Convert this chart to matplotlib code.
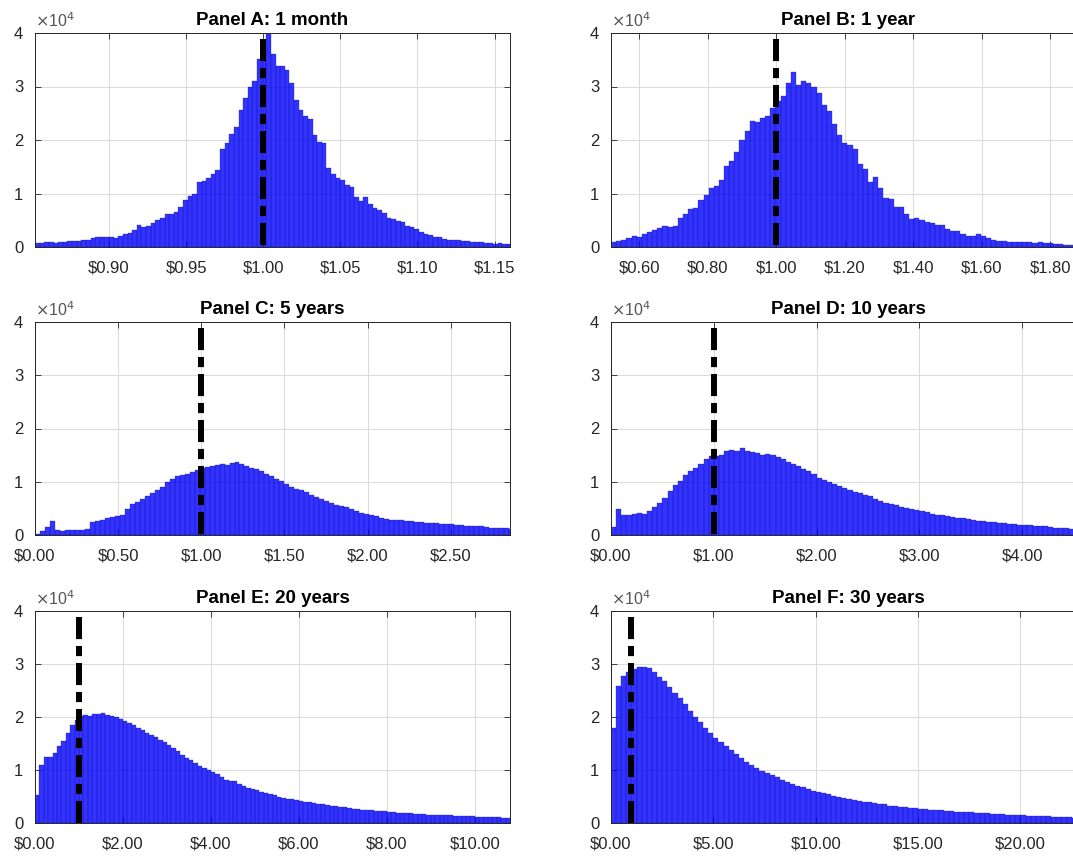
import numpy as np
import matplotlib
matplotlib.use('Agg')
import matplotlib.pyplot as plt

plt.rcParams['font.family'] = ['Liberation Sans', 'DejaVu Sans']

# simulated terminal value of $1, histogram counts per bin (units of 10^4)
titles = ['Panel A: 1 month', 'Panel B: 1 year', 'Panel C: 5 years',
          'Panel D: 10 years', 'Panel E: 20 years', 'Panel F: 30 years']

bin_start = [0.852, 0.5177, 0.0, 0.0, 0.0, 0.0]
bin_width = [0.003, 0.015, 0.03, 0.05, 0.1, 0.25]

x_limits = [(0.852, 1.160), (0.5177, 1.904), (0.0, 2.857),
            (0.0, 4.62), (0.0, 10.8), (0.0, 23.2)]

x_ticks = [[0.90, 0.95, 1.00, 1.05, 1.10, 1.15],
           [0.60, 0.80, 1.00, 1.20, 1.40, 1.60, 1.80],
           [0.0, 0.5, 1.0, 1.5, 2.0, 2.5],
           [0.0, 1.0, 2.0, 3.0, 4.0],
           [0.0, 2.0, 4.0, 6.0, 8.0, 10.0],
           [0.0, 5.0, 10.0, 15.0, 20.0]]

y_ticks = [0, 1, 2, 3, 4]
initial_value = 1.0

counts_a = [0.07, 0.07, 0.09, 0.10, 0.08, 0.09, 0.10, 0.12, 0.11, 0.12,
            0.14, 0.14, 0.17, 0.18, 0.19, 0.18, 0.18, 0.17, 0.21, 0.25,
            0.27, 0.31, 0.42, 0.37, 0.40, 0.45, 0.50, 0.54, 0.61, 0.62,
            0.66, 0.75, 0.87, 0.95, 1.00, 1.22, 1.24, 1.29, 1.36, 1.44,
            1.84, 1.94, 2.12, 2.25, 2.56, 2.78, 3.00, 3.11, 3.51, 3.70,
            4.05, 3.60, 3.38, 3.38, 3.31, 3.06, 2.75, 2.56, 2.45, 2.40,
            2.09, 1.97, 1.95, 1.47, 1.37, 1.29, 1.25, 1.16, 1.12, 0.94,
            0.86, 0.94, 0.81, 0.73, 0.69, 0.63, 0.55, 0.53, 0.48, 0.47,
            0.40, 0.37, 0.34, 0.28, 0.25, 0.22, 0.19, 0.18, 0.15, 0.14,
            0.13, 0.13, 0.12, 0.11, 0.10, 0.09, 0.09, 0.08, 0.07, 0.06,
            0.07, 0.06, 0.05]

counts_b = [0.10, 0.11, 0.13, 0.17, 0.20, 0.19, 0.24, 0.28, 0.32, 0.35,
            0.40, 0.37, 0.40, 0.55, 0.62, 0.71, 0.72, 0.88, 0.98, 1.10,
            1.14, 1.25, 1.52, 1.60, 1.78, 2.00, 2.17, 2.35, 2.33, 2.42,
            2.45, 2.60, 2.72, 2.83, 3.06, 3.28, 3.03, 3.10, 3.07, 3.00,
            2.88, 2.65, 2.55, 2.30, 2.10, 1.95, 1.90, 1.83, 1.55, 1.45,
            1.22, 1.30, 1.10, 0.92, 0.90, 0.75, 0.74, 0.62, 0.52, 0.55,
            0.50, 0.46, 0.44, 0.42, 0.41, 0.34, 0.30, 0.30, 0.25, 0.21,
            0.21, 0.24, 0.20, 0.16, 0.14, 0.12, 0.12, 0.10, 0.10, 0.09,
            0.10, 0.09, 0.08, 0.09, 0.07, 0.07, 0.06, 0.05, 0.04, 0.04,
            0.03, 0.03, 0.03]

counts_c = [0.02, 0.07, 0.15, 0.27, 0.10, 0.08, 0.10, 0.10, 0.10, 0.10,
            0.12, 0.24, 0.26, 0.29, 0.31, 0.33, 0.36, 0.38, 0.48, 0.58,
            0.62, 0.67, 0.73, 0.79, 0.85, 0.90, 1.00, 1.05, 1.10, 1.12,
            1.15, 1.18, 1.22, 1.25, 1.27, 1.29, 1.31, 1.33, 1.32, 1.35,
            1.38, 1.33, 1.30, 1.26, 1.24, 1.20, 1.15, 1.10, 1.05, 1.01,
            0.96, 0.91, 0.87, 0.85, 0.80, 0.76, 0.72, 0.68, 0.64, 0.61,
            0.57, 0.54, 0.52, 0.49, 0.45, 0.42, 0.40, 0.38, 0.35, 0.32,
            0.30, 0.29, 0.28, 0.28, 0.27, 0.26, 0.25, 0.24, 0.23, 0.22,
            0.22, 0.21, 0.20, 0.20, 0.19, 0.18, 0.17, 0.17, 0.16, 0.16,
            0.15, 0.14, 0.14, 0.13, 0.13, 0.12]

counts_d = [0.15, 0.48, 0.38, 0.38, 0.40, 0.42, 0.40, 0.45, 0.52, 0.60,
            0.70, 0.82, 0.93, 1.02, 1.12, 1.20, 1.25, 1.33, 1.42, 1.48,
            1.48, 1.50, 1.57, 1.60, 1.58, 1.63, 1.58, 1.56, 1.54, 1.51,
            1.52, 1.50, 1.47, 1.43, 1.38, 1.33, 1.29, 1.24, 1.20, 1.14,
            1.07, 1.04, 1.00, 0.96, 0.92, 0.88, 0.85, 0.81, 0.78, 0.76,
            0.73, 0.68, 0.64, 0.60, 0.58, 0.56, 0.53, 0.50, 0.49, 0.47,
            0.45, 0.43, 0.40, 0.38, 0.37, 0.35, 0.34, 0.32, 0.31, 0.30,
            0.29, 0.27, 0.26, 0.25, 0.24, 0.23, 0.22, 0.21, 0.20, 0.19,
            0.18, 0.18, 0.17, 0.16, 0.16, 0.15, 0.14, 0.14, 0.13, 0.12,
            0.12, 0.11, 0.11]

counts_e = [0.52, 1.10, 1.25, 1.24, 1.33, 1.45, 1.55, 1.70, 1.85, 1.95,
            2.02, 2.03, 2.02, 2.05, 2.06, 2.08, 2.03, 2.01, 2.00, 1.96,
            1.92, 1.88, 1.84, 1.79, 1.75, 1.70, 1.66, 1.62, 1.57, 1.52,
            1.47, 1.41, 1.35, 1.29, 1.23, 1.18, 1.13, 1.08, 1.04, 1.00,
            0.96, 0.92, 0.87, 0.82, 0.80, 0.79, 0.74, 0.70, 0.66, 0.64,
            0.62, 0.59, 0.56, 0.54, 0.52, 0.50, 0.48, 0.46, 0.45, 0.43,
            0.42, 0.40, 0.39, 0.38, 0.36, 0.35, 0.34, 0.33, 0.32, 0.31,
            0.30, 0.28, 0.27, 0.26, 0.25, 0.24, 0.24, 0.23, 0.22, 0.22,
            0.21, 0.20, 0.19, 0.19, 0.18, 0.18, 0.17, 0.17, 0.17, 0.16,
            0.16, 0.15, 0.15, 0.15, 0.15, 0.14, 0.14, 0.13, 0.13, 0.13,
            0.12, 0.12, 0.12, 0.11, 0.11, 0.11, 0.10, 0.10]

counts_f = [1.80, 2.58, 2.78, 2.85, 2.90, 2.95, 2.95, 2.92, 2.85, 2.75,
            2.67, 2.57, 2.46, 2.36, 2.24, 2.12, 2.00, 1.90, 1.80, 1.70,
            1.60, 1.52, 1.45, 1.37, 1.30, 1.22, 1.16, 1.10, 1.04, 0.99,
            0.94, 0.90, 0.86, 0.82, 0.77, 0.73, 0.70, 0.68, 0.64, 0.61,
            0.58, 0.56, 0.54, 0.51, 0.49, 0.47, 0.45, 0.43, 0.42, 0.40,
            0.39, 0.37, 0.36, 0.35, 0.33, 0.32, 0.31, 0.30, 0.29, 0.28,
            0.27, 0.26, 0.25, 0.24, 0.24, 0.23, 0.22, 0.21, 0.21, 0.20,
            0.20, 0.19, 0.18, 0.18, 0.17, 0.17, 0.17, 0.16, 0.16, 0.15,
            0.15, 0.14, 0.14, 0.13, 0.13, 0.13, 0.12, 0.12, 0.11, 0.11,
            0.10, 0.10, 0.10]

all_counts = [counts_a, counts_b, counts_c, counts_d, counts_e, counts_f]

W, H = 1073, 857
fig = plt.figure(figsize=(W / 100, H / 100), dpi=100)

# axes boxes in pixels: left, top, right, bottom (right column runs off the page)
cols = [(35, 510), (611, 1086)]
rows = [(33, 247), (322, 535), (611, 823)]

text_gray = '#262626'

for i, counts in enumerate(all_counts):
    x0, x1 = cols[i % 2]
    y0, y1 = rows[i // 2]
    ax = fig.add_axes([x0 / W, (H - y1) / H, (x1 - x0) / W, (y1 - y0) / H])

    counts = np.array(counts)
    lefts = bin_start[i] + bin_width[i] * np.arange(len(counts))
    ax.bar(lefts, counts, width=bin_width[i], align='edge',
           color='#0000ff', alpha=0.8, edgecolor='#1010a0',
           linewidth=0.25, zorder=2)

    ax.plot([initial_value, initial_value], [3.88, 0], color='black',
            linewidth=4.3, linestyle=(0, (3.7, 1.15, 1.7, 1.15)),
            solid_capstyle='butt', dash_capstyle='butt', zorder=3)

    ax.set_xlim(*x_limits[i])
    ax.set_ylim(0, 4)
    ax.set_xticks(x_ticks[i])
    ax.set_xticklabels(['$%.2f' % t for t in x_ticks[i]])
    ax.set_yticks(y_ticks)
    ax.set_yticklabels([str(t) for t in y_ticks])

    ax.grid(True, color='#dcdcdc', linewidth=0.8, zorder=0)
    ax.set_axisbelow(True)
    ax.tick_params(direction='in', length=4, width=0.6, top=True, right=True,
                   labelsize=12, colors=text_gray)
    ax.tick_params(axis='x', pad=9.5)
    ax.tick_params(axis='y', pad=8.5)
    for sp in ax.spines.values():
        sp.set_color(text_gray)
        sp.set_linewidth(0.7)

    ax.text(0.0, 1.012, r'$\times$10$^4$', transform=ax.transAxes,
            fontsize=11.5, color='#555555', ha='left', va='bottom')
    ax.set_title(titles[i], fontsize=13.5, fontweight='bold', color='black',
                 pad=6)

fig.savefig('out.png', dpi=100, facecolor='white')
